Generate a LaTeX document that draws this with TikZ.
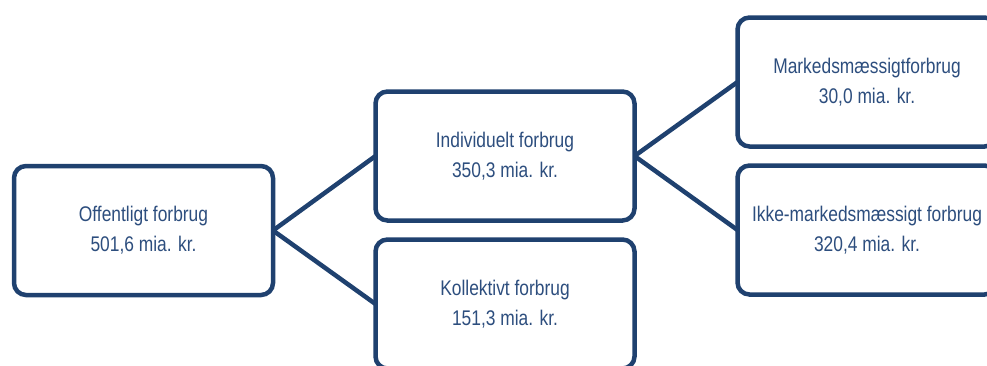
\documentclass[tikz,border=0pt]{standalone}
\usepackage{fontspec}
\setmainfont{Liberation Sans}[FakeStretch=0.82]
\definecolor{boxblue}{HTML}{1F416F}
\definecolor{txtblue}{HTML}{2D4E7E}
\begin{document}
\begin{tikzpicture}[x=1pt,y=-1pt,
  box/.style={draw=boxblue, line width=4.5pt, rounded corners=12pt, fill=white,
    minimum width=259pt, minimum height=129pt, inner sep=0pt, outer sep=0pt,
    align=center, text=txtblue, font=\fontsize{21.2}{30}\selectfont},
  conn/.style={draw=boxblue, line width=4.5pt}]
\useasboundingbox (0,0) rectangle (987,365);
\node[box] (off) at (143.5,230.5) {Offentligt forbrug\\501,6 mia. kr.};
\node[box] (ind) at (505,156) {Individuelt forbrug\\350,3 mia. kr.};
\node[box] (kol) at (505,304) {Kollektivt forbrug\\151,3 mia. kr.};
\node[box] (mar) at (867,82) {Markedsmæssigtforbrug\\30,0 mia. kr.};
\node[box] (ikk) at (867,230) {Ikke-markedsmæssigt forbrug\\320,4 mia. kr.};
\draw[conn] (off.east) -- (ind.west);
\draw[conn] (off.east) -- (kol.west);
\draw[conn] (ind.east) -- (mar.west);
\draw[conn] (ind.east) -- (ikk.west);
\end{tikzpicture}
\end{document}
